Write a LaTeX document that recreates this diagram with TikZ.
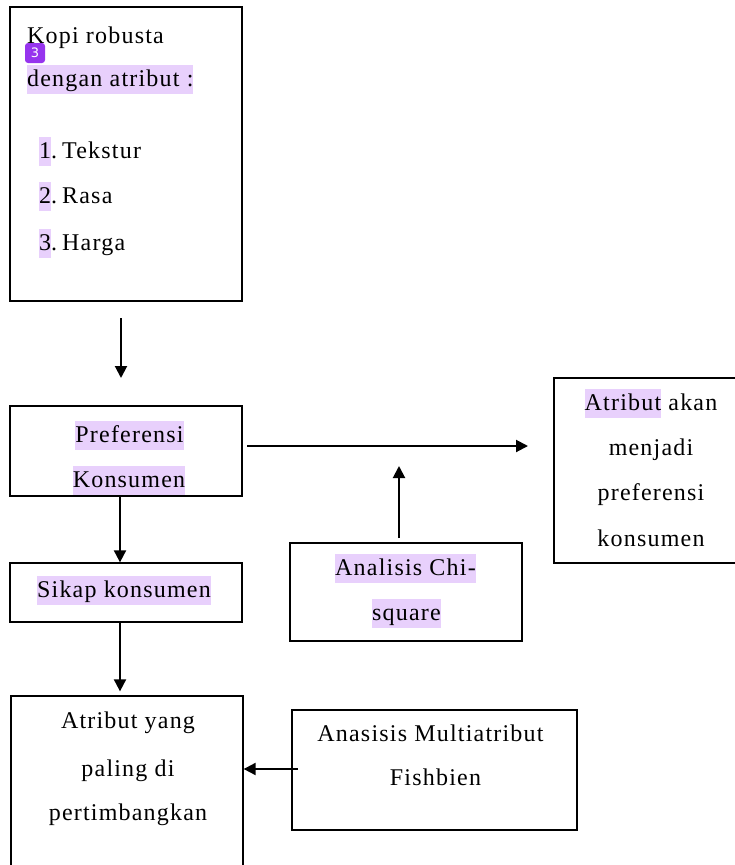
\documentclass[tikz,border=0pt]{standalone}
\usepackage{fontspec}
\setmainfont{Liberation Serif}[LetterSpace=5]
\newfontfamily\badgefont{DejaVu Sans}
\usetikzlibrary{arrows.meta}
\definecolor{hl}{RGB}{232,208,252}
\definecolor{badgecol}{RGB}{150,52,238}
\newcommand{\hlt}[1]{{\setlength{\fboxsep}{0pt}\colorbox{hl}{\rule[-8pt]{0pt}{29pt}#1}}}
\begin{document}
\begin{tikzpicture}[x=1pt,y=-1pt,
  box/.style={draw, line width=1.3pt, rectangle, inner sep=0pt},
  txt/.style={anchor=base, inner sep=0pt, font=\fontsize{24}{28}\selectfont},
  txtl/.style={txt, anchor=base west},
  conn/.style={line width=2pt, -{Triangle[length=12pt,width=12pt]}}]
\useasboundingbox (0,0) rectangle (735,865);
\clip (0,0) rectangle (735,865);
% boxes
\node[box, minimum width=232pt, minimum height=294pt] (kopi) at (126,154) {};
\node[box, minimum width=232pt, minimum height=90pt] (pref) at (126,451) {};
\node[box, minimum width=191pt, minimum height=185pt] (atr) at (649.5,470.5) {};
\node[box, minimum width=232pt, minimum height=98pt] (chi) at (406,592) {};
\node[box, minimum width=232pt, minimum height=59pt] (sikap) at (126,592.5) {};
\node[box, minimum width=232pt, minimum height=184pt] (yang) at (127,788) {};
\node[box, minimum width=285pt, minimum height=120pt] (fish) at (434.5,770) {};
% texts
\node[txtl] (t1) at (27,43) {Kopi robusta};
\node[txtl] (t2) at (27,86) {\hlt{dengan atribut :}};
\node[txtl] (n1) at (39,158) {\hlt{1}.};
\node[txtl] (i1) at (62,158) {Tekstur};
\node[txtl] (n2) at (39,203) {\hlt{2}.};
\node[txtl] (i2) at (62,203) {Rasa};
\node[txtl] (n3) at (39,250) {\hlt{3}.};
\node[txtl] (i3) at (62,250) {Harga};
\node[fill=badgecol, text=white, rounded corners=3pt, minimum width=20pt, minimum height=20pt, inner sep=0pt, font=\badgefont\fontsize{13}{13}\selectfont] (badge) at (35,53) {3};
\node[txt] (p1) at (129.5,442) {\hlt{Preferensi}};
\node[txt] (p2) at (129,487) {\hlt{Konsumen}};
\node[txt] (s1) at (124,597) {\hlt{Sikap konsumen}};
\node[txt] (a1) at (651,410) {\hlt{Atribut} akan};
\node[txt] (a2) at (651,455) {menjadi};
\node[txt] (a3) at (651,500) {preferensi};
\node[txt] (a4) at (651,546) {konsumen};
\node[txt] (c1) at (405.5,575) {\hlt{Analisis Chi-}};
\node[txt] (c2) at (406.5,620) {\hlt{square}};
\node[txt] (y1) at (128,728) {Atribut yang};
\node[txt] (y2) at (128,776) {paling di};
\node[txt] (y3) at (128,820) {pertimbangkan};
\node[txt] (f1) at (430.5,741) {Anasisis Multiatribut};
\node[txt] (f2) at (435.5,785) {Fishbien};
% connector end points
\coordinate (k1) at (121,318);
\coordinate (k2) at (121,378);
\coordinate (h1) at (247,446);
\coordinate (h2) at (528,446);
\coordinate (u1) at (399,538);
\coordinate (u2) at (399,466);
\coordinate (x120) at (120,0);
\coordinate (f0) at (298,769);
% connectors
\draw[conn] (k1) -- (k2);
\draw[conn] (h1) -- (h2);
\draw[conn] (u1) -- (u2);
\draw[conn] (pref.south -| x120) -- (sikap.north -| x120);
\draw[conn] (sikap.south -| x120) -- ([yshift=4pt]yang.north -| x120);
\draw[conn] (f0) -- (yang.east |- f0);
\end{tikzpicture}
\end{document}
